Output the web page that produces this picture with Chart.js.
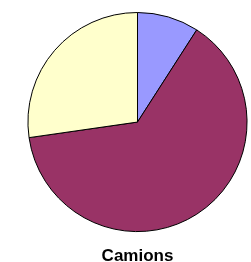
<!DOCTYPE html>
<html>
<head>
<meta charset="utf-8">
<script src="https://cdn.jsdelivr.net/npm/chart.js@4/dist/chart.umd.min.js"></script>
<style>
html,body{margin:0;padding:0;background:#fff;}
#wrap{width:251px;height:262px;position:relative;}
</style>
</head>
<body>
<div id="wrap"><canvas id="c"></canvas></div>
<script>
const categories = ["Catégorie 1", "Catégorie 2", "Catégorie 3"];
const values = [1, 7, 3];
const colors = ["#9999FF", "#993366", "#FFFFCC"];
const titleText = "Camions";

new Chart(document.getElementById('c'), {
  type: 'pie',
  data: {
    labels: categories,
    datasets: [{
      data: values,
      backgroundColor: colors,
      borderColor: '#000000',
      borderWidth: 1
    }]
  },
  options: {
    responsive: true,
    maintainAspectRatio: false,
    animation: false,
    layout: { padding: { left: 27, right: 3, top: 12, bottom: 0 } },
    plugins: {
      legend: { display: false },
      tooltip: { enabled: false },
      title: {
        display: true,
        text: titleText,
        position: 'bottom',
        color: '#000000',
        font: { family: "'Liberation Sans', Arial, sans-serif", size: 17, weight: 'bold', lineHeight: 0.7 },
        padding: { top: 18, bottom: 0 }
      }
    }
  }
});
</script>
</body>
</html>
